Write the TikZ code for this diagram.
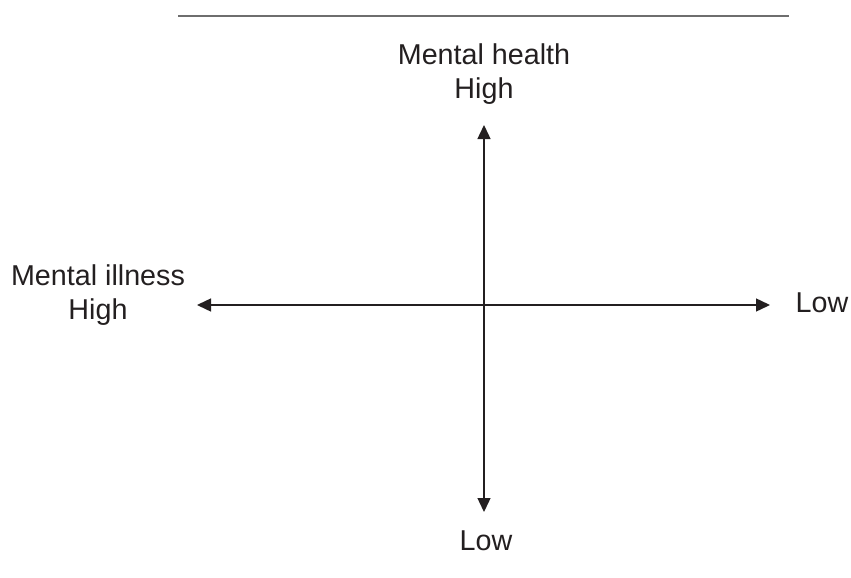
\documentclass[tikz,border=0pt]{standalone}
\usepackage{fontspec}
\setmainfont{Liberation Sans}
\usetikzlibrary{arrows.meta}

\definecolor{ink}{RGB}{35,31,32}
\definecolor{rule}{RGB}{110,110,110}

\tikzset{
  axislabel/.style={text=ink, align=center, inner sep=0pt,
    font=\fontsize{28.7}{34}\selectfont},
  axis/.style={ink, line width=1.4pt, {Triangle[length=14pt,width=13pt]}-{Triangle[length=14pt,width=13pt]}}
}

\begin{document}
\begin{tikzpicture}[x=1pt,y=-1pt]
      \useasboundingbox (0,0) rectangle (851,578);

      % top rule
      \coordinate (ruleL) at (178,16);
      \coordinate (ruleR) at (789,16);
      \draw[rule, line width=1.5pt] (ruleL) -- (ruleR);

      % axis ends
      \coordinate (top) at (484,125);
      \coordinate (bottom) at (484,512);
      \coordinate (left) at (197,305);
      \coordinate (right) at (770,305);

      \draw[axis] (left) -- (right);
      \draw[axis] (top) -- (bottom);

      \node[axislabel] (health) at (484,74) {Mental health\\High};
      \node[axislabel] (healthlow) at (486,541) {Low};
      \node[axislabel] (illness) at (98,295) {Mental illness\\High};
      \node[axislabel] (illnesslow) at (822,303) {Low};

    \end{tikzpicture}
\end{document}
